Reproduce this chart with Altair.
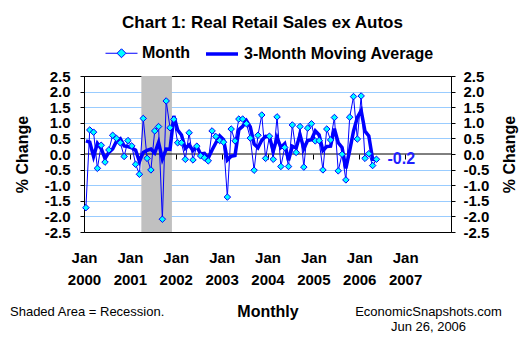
import altair as alt
import pandas as pd

FONT = "Liberation Sans"

# ---- data ----
start_year = 2000
series_names = ["Month", "3-Month Moving Average"]
month_change = [-1.72, 0.77, 0.70, -0.46, 0.28, -0.26, 0.13, 0.60, 0.50, 0.36, -0.08, 0.43,
                0.26, -0.33, -0.65, 1.14, -0.14, -0.51, 0.74, 0.88, -2.09, 1.70, 0.84, 1.11,
                0.36, 0.36, -0.17, 0.68, -0.19, 0.25, -0.06, -0.12, -0.22, 0.74, 0.56, 0.43,
                0.38, -1.38, 0.80, 0.42, 1.12, 1.12, 0.97, 0.51, -0.52, 0.60, 1.25, -0.14,
                0.57, -0.17, 1.19, -0.40, 0.21, -0.40, 0.93, 0.05, 0.88, -0.42, 0.83, 0.97,
                0.42, 0.43, -0.51, 0.80, 0.45, 1.17, -0.54, -0.01, -0.83, 1.18, 1.84, 0.48,
                1.86, -0.14, 0.01, -0.37, -0.17]
moving_avg = [0.42, 0.38, -0.08, 0.34, 0.17, -0.15, 0.05, 0.16, 0.41, 0.49, 0.26, 0.24,
              0.20, 0.12, -0.24, 0.05, 0.12, 0.16, 0.03, 0.37, -0.16, 0.16, 0.15, 1.22,
              0.77, 0.61, 0.18, 0.29, 0.11, 0.25, 0.00, 0.02, -0.13, 0.13, 0.36, 0.58,
              0.46, -0.19, -0.07, -0.05, 0.78, 0.89, 1.07, 0.87, 0.32, 0.20, 0.44, 0.57,
              0.56, 0.09, 0.53, 0.21, 0.33, -0.20, 0.25, 0.19, 0.62, 0.17, 0.43, 0.46,
              0.74, 0.61, 0.11, 0.24, 0.25, 0.81, 0.36, 0.21, -0.46, 0.11, 0.73, 1.17,
              1.39, 0.73, 0.58, -0.17, -0.18]
# recession shading, in months since Jan 2000 (Apr 2001 .. end of Nov 2001)
recession_start = 15
recession_end = 23
x_ticks = [0, 12, 24, 36, 48, 60, 72, 84]
y_ticks = [-2.5, -2.0, -1.5, -1.0, -0.5, 0.0, 0.5, 1.0, 1.5, 2.0, 2.5]

rows = []
for i, v in enumerate(month_change):
    rows.append({"t": i + 0.5, "value": v, "series": "Month"})
for i, v in enumerate(moving_avg):
    rows.append({"t": i + 0.5, "value": v, "series": "3-Month Moving Average"})
df = pd.DataFrame(rows)
df_month = df[df.series == "Month"].copy()
df_ma = df[df.series == "3-Month Moving Average"].copy()
last = df_month.tail(1).copy()
last["label"] = [f"{v:.1f}" for v in last["value"]]

xscale = alt.Scale(domain=[0, 96], nice=False, zero=False)
yscale = alt.Scale(domain=[-2.5, 2.5], nice=False, zero=False)

minus_fix = "replace(format(datum.value, '.1f'), '\u2212', '-')"

xaxis = alt.Axis(values=x_ticks,
                 labelExpr="['Jan', '' + (%d + datum.value / 12)]" % start_year,
                 offset=-78, domain=False, ticks=True, tickSize=5, tickColor="black",
                 labelPadding=91, labelFont=FONT, labelFontSize=15, labelFontWeight="bold",
                 labelColor="black", labelLineHeight=22, labelFlush=False,
                 labelOverlap=False, labelBound=False, grid=False,
                 title="Monthly", titleFont=FONT, titleFontSize=16, titleFontWeight="bold",
                 titleColor="black", titleX=183.5, titleY=162, titleAlign="center",
                 titleBaseline="alphabetic")

left_axis = alt.Axis(orient="left", values=y_ticks, labelExpr=minus_fix,
                     tickSize=4, tickColor="black", domainColor="black",
                     labelPadding=10, labelFont=FONT, labelFontSize=15, labelFontWeight="bold",
                     labelColor="black", grid=True, gridColor="#99CCFF",
                     gridOpacity={"condition": {"test": "abs(datum.value) > 2.4 || datum.value == 0", "value": 0}, "value": 1},
                     title="% Change", titleFont=FONT, titleFontSize=16, titleFontWeight="bold",
                     titleColor="black", titleAngle=270, titleX=-62, titleY=78,
                     titleAlign="center", titleBaseline="middle")

right_axis = alt.Axis(orient="right", values=y_ticks, labelExpr=minus_fix,
                      tickSize=4, tickColor="black", domainColor="black",
                      labelPadding=8, labelFont=FONT, labelFontSize=15, labelFontWeight="bold",
                      labelColor="black", grid=False,
                      title="% Change", titleFont=FONT, titleFontSize=16, titleFontWeight="bold",
                      titleColor="black", titleAngle=270, titleX=58, titleY=78,
                      titleAlign="center", titleBaseline="middle")

legend = alt.Legend(orient="none", legendX=21, legendY=-40, direction="horizontal", title=None,
                    labelFont=FONT, labelFontSize=16, labelFontWeight="bold", labelColor="black",
                    labelLimit=400, symbolSize=1024, labelOffset=4, columnPadding=9,
                    symbolOpacity=1)

month_path = "M-1,0L-0.28,0M0.28,0L1,0M-0.28,0L0,-0.28L0.28,0L0,0.28Z"
ma_path = "M-1,0L1,0"

shade = alt.Chart(pd.DataFrame({"start": [recession_start], "end": [recession_end]})).mark_rect(
    color="#C0C0C0").encode(
    x=alt.X("start:Q", scale=xscale, axis=xaxis),
    x2="end:Q")

zero = alt.Chart(pd.DataFrame({"zero": [0.0]})).mark_rule(color="black", strokeWidth=1).encode(
    y=alt.Y("zero:Q", scale=yscale, axis=None))

month_line = alt.Chart(df_month).mark_line(color="#0000FF", strokeWidth=1).encode(
    x=alt.X("t:Q", scale=xscale),
    y=alt.Y("value:Q", scale=yscale, axis=left_axis))

ma_line = alt.Chart(df_ma).mark_line(color="#0000FF", strokeWidth=3.5).encode(
    x=alt.X("t:Q", scale=xscale),
    y=alt.Y("value:Q", scale=yscale, axis=None))

points = alt.Chart(df_month).mark_point(shape="diamond", filled=True, fill="#00FFFF",
                                        stroke="#0000FF", strokeWidth=1, size=42, opacity=1).encode(
    x=alt.X("t:Q", scale=xscale),
    y=alt.Y("value:Q", scale=yscale, axis=right_axis))

# legend-only layer (draws no marks, only supplies the legend)
legend_layer = alt.Chart(df).transform_filter("false").mark_point(
    filled=True, size=1024, opacity=1).encode(
    x=alt.X("t:Q", scale=xscale),
    y=alt.Y("value:Q", scale=yscale, axis=None),
    shape=alt.Shape("series:N", scale=alt.Scale(domain=series_names, range=[month_path, ma_path]),
                    legend=legend),
    fill=alt.Fill("series:N", scale=alt.Scale(domain=series_names, range=["#00FFFF", "#00FFFF"]),
                  legend=legend),
    stroke=alt.Stroke("series:N", scale=alt.Scale(domain=series_names, range=["#0000FF", "#0000FF"]),
                      legend=legend),
    strokeWidth=alt.StrokeWidth("series:N", scale=alt.Scale(domain=series_names, range=[1, 3.5]),
                                legend=legend),
)

last_label = alt.Chart(last).mark_text(align="left", baseline="middle", dx=11, font=FONT,
                                       fontSize=16, fontWeight="bold", color="#1F1FFF").encode(
    x=alt.X("t:Q", scale=xscale),
    y=alt.Y("value:Q", scale=yscale, axis=None),
    text="label:N")

def note(txt, x, y, align, bold=False, size=13):
    return alt.Chart(pd.DataFrame({"n": [txt]})).mark_text(
        align=align, baseline="alphabetic", font=FONT, fontSize=size,
        fontWeight="bold" if bold else "normal", color="black").encode(
        text="n:N", x=alt.value(x), y=alt.value(y))

notes = [
    note("Shaded Area = Recession.", -74, 240, "left"),
    note("EconomicSnapshots.com", 344.5, 240, "center"),
    note("Jun 26, 2006", 344.5, 255, "center"),
]

chart = alt.layer(shade, zero, month_line, ma_line, points, legend_layer, last_label, *notes).resolve_axis(
    y="independent").properties(
    width=367, height=156,
    title=alt.TitleParams("Chart 1: Real Retail Sales ex Autos", font=FONT, fontSize=17,
                          fontWeight="bold", color="black", anchor="middle", frame="group",
                          dx=-5, offset=4),
    autosize=alt.AutoSizeParams(type="none"),
    padding={"left": 84, "top": 76, "right": 80, "bottom": 114},
    background="white",
).configure_view(stroke="black", strokeWidth=1)

chart.save("out.html", embed_options={"renderer": "svg", "actions": False})
